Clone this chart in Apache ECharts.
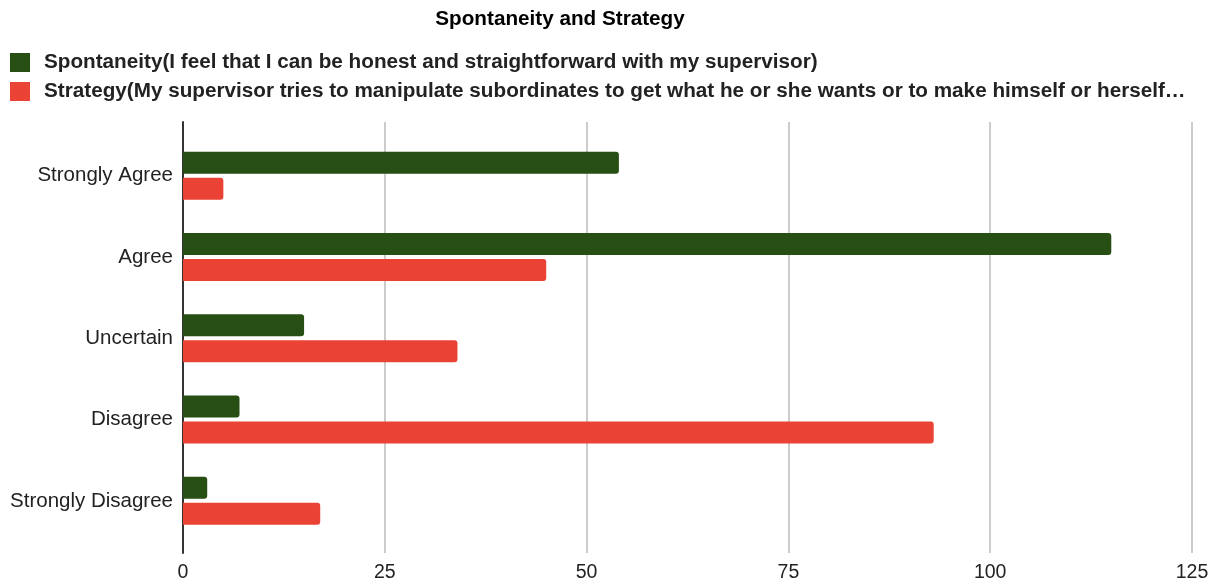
<!DOCTYPE html>
<html>
<head>
<meta charset="utf-8">
<script src="https://cdn.jsdelivr.net/npm/echarts@6/dist/echarts.min.js"></script>
<style>
  html, body { margin: 0; padding: 0; background: #fff; }
  #main { width: 1220px; height: 586px; }
</style>
</head>
<body>
<div id="main"></div>
<script>
// categories, top to bottom
var categories = ['Strongly Agree', 'Agree', 'Uncertain', 'Disagree', 'Strongly Disagree'];
var seriesNames = [
  'Spontaneity(I feel that I can be honest and straightforward with my supervisor)',
  'Strategy(My supervisor tries to manipulate subordinates to get what he or she wants or to make himself or herself…'
];
var spontaneity = [54, 115, 15, 7, 3];
var strategy = [5, 45, 34, 93, 17];
var xTicks = [0, 25, 50, 75, 100, 125];

var chart = echarts.init(document.getElementById('main'));

// grid 0 carries the frame (gridlines + left axis line), grid 1 carries the bars
var option = {
  backgroundColor: '#ffffff',
  animation: false,
  textStyle: { fontFamily: 'Liberation Sans, Arial, sans-serif' },
  title: {
    text: 'Spontaneity and Strategy',
    left: 555,
    top: 4,
    textAlign: 'center',
    textStyle: { fontSize: 20.7, fontWeight: 'bold', color: '#000' }
  },
  legend: {
    orient: 'vertical',
    left: 5,
    top: 47,
    itemWidth: 20,
    itemHeight: 19,
    itemGap: 8,
    icon: 'rect',
    itemStyle: { borderRadius: 2 },
    textStyle: { fontSize: 20.7, lineHeight: 21, fontWeight: 'bold', color: '#222', padding: [0, 0, 0, 9] },
    data: seriesNames
  },
  grid: [
    { left: 183, right: 28, top: 122, bottom: 33 },
    { left: 183, right: 28, top: 135, bottom: 44.5 }
  ],
  xAxis: [
    {
      type: 'value',
      gridIndex: 0,
      min: xTicks[0],
      max: xTicks[xTicks.length - 1],
      interval: 25,
      axisLine: { show: false },
      axisTick: { show: false },
      axisLabel: { fontSize: 19.5, color: '#222', margin: 10 },
      splitLine: { lineStyle: { color: '#cccccc', width: 2 } }
    },
    {
      type: 'value',
      gridIndex: 1,
      min: xTicks[0],
      max: xTicks[xTicks.length - 1],
      show: false
    }
  ],
  yAxis: [
    {
      type: 'value',
      gridIndex: 0,
      min: 0,
      max: 1,
      axisLine: { show: true, onZero: false, lineStyle: { color: '#333', width: 2 } },
      axisTick: { show: false },
      axisLabel: { show: false },
      splitLine: { show: false }
    },
    {
      type: 'category',
      gridIndex: 1,
      inverse: true,
      data: categories,
      axisLine: { show: false },
      axisTick: { show: false },
      axisLabel: { fontSize: 20.5, color: '#222', margin: 10 }
    }
  ],
  series: [
    {
      name: seriesNames[0],
      type: 'bar',
      xAxisIndex: 1,
      yAxisIndex: 1,
      data: spontaneity,
      barWidth: 22,
      barGap: '18%',
      itemStyle: { color: '#274e13', borderRadius: [0, 3, 3, 0] }
    },
    {
      name: seriesNames[1],
      type: 'bar',
      xAxisIndex: 1,
      yAxisIndex: 1,
      data: strategy,
      barWidth: 22,
      itemStyle: { color: '#ea4335', borderRadius: [0, 3, 3, 0] }
    }
  ]
};

chart.setOption(option);
</script>
</body>
</html>
